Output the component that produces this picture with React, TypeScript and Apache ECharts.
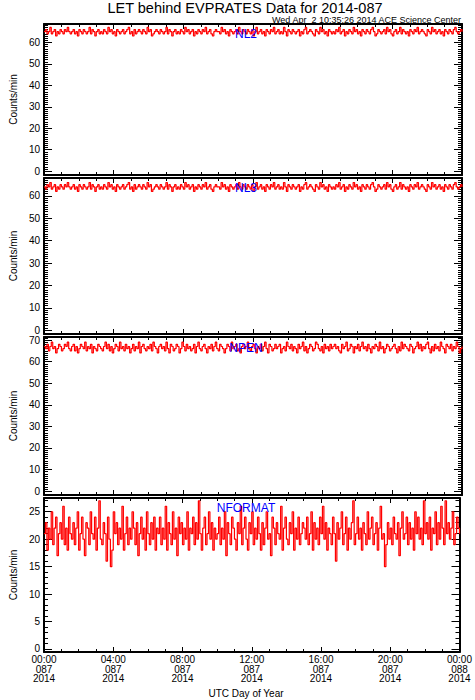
import React, { useEffect, useRef } from 'react';
import * as echarts from 'echarts';

const TITLE = 'LET behind EVPRATES Data for 2014-087';
const STAMP = 'Wed Apr  2 10:35:26 2014 ACE Science Center';
const X_NAME = 'UTC Day of Year';
const Y_NAME = 'Counts/min';
const panelNames = ['NL2', 'NL3', 'NPEN', 'NFORMAT'];

const xTickValues = [0, 240, 480, 720, 960, 1200, 1440];
const xTickLabels = [
  '00:00\n087\n2014',
  '04:00\n087\n2014',
  '08:00\n087\n2014',
  '12:00\n087\n2014',
  '16:00\n087\n2014',
  '20:00\n087\n2014',
  '00:00\n088\n2014',
];

// sample times in minutes of day (5-minute samples)
const minutes = Array.from({ length: 289 }, (_, i) => i * 5);

const nl2 = [
  65,66,64,65,67,64,65,66,63,65,64,66,65,64,66,65,67,65,64,65,
  66,64,65,63,66,65,64,66,65,64,65,67,64,66,65,63,65,66,64,65,
  64,66,65,64,67,65,66,64,65,63,66,65,64,65,66,64,65,66,67,64,
  65,63,66,64,65,66,65,64,66,65,64,67,65,66,63,64,65,66,65,64,
  66,65,64,65,67,64,66,65,63,65,66,64,65,64,66,65,64,67,65,66,
  64,65,66,63,65,64,66,65,64,66,65,67,64,65,66,64,63,65,66,65,
  65,64,67,65,66,64,65,63,66,65,64,65,66,64,67,65,64,66,65,64,
  66,65,64,66,63,65,67,64,65,66,64,65,63,66,65,64,66,65,67,64,
  65,66,64,65,64,67,65,63,66,65,64,66,65,64,65,66,63,65,64,66,
  67,64,65,66,65,64,63,66,65,64,67,65,66,64,65,63,66,65,64,65,
  64,66,65,67,64,65,66,63,65,64,66,65,64,67,65,66,64,65,63,66,
  65,64,66,65,64,66,67,65,63,64,66,65,64,65,66,64,67,65,66,64,
  63,65,66,64,65,67,64,66,65,64,65,63,66,65,64,66,65,67,64,65,
  66,65,64,63,66,65,64,67,65,66,64,65,66,64,65,63,66,65,64,66,
  65,64,66,67,65,64,65,66,65,
];
const nl3 = [
  64,63,65,64,66,63,64,65,62,64,63,65,64,63,65,64,66,64,63,64,
  65,63,64,62,65,64,63,65,64,63,64,66,63,65,64,62,64,65,63,64,
  63,65,64,63,66,64,65,63,64,62,65,64,63,64,65,63,64,65,66,63,
  64,62,65,63,64,65,64,63,65,64,63,66,64,65,62,63,64,65,64,63,
  65,64,63,64,66,63,65,64,62,64,65,63,64,63,65,64,63,66,64,65,
  63,64,65,62,64,63,65,64,63,65,64,66,63,64,65,63,62,64,65,64,
  64,63,66,64,65,63,64,62,65,64,63,64,65,63,66,64,63,65,64,63,
  65,64,63,65,62,64,66,63,64,65,63,64,62,65,64,63,65,64,66,63,
  64,65,63,64,63,66,64,62,65,64,63,65,64,63,64,65,62,64,63,65,
  66,63,64,65,64,63,62,65,64,63,66,64,65,63,64,62,65,64,63,64,
  63,65,64,66,63,64,65,62,64,63,65,64,63,66,64,65,63,64,62,65,
  64,63,65,64,63,65,66,64,62,63,65,64,63,64,65,63,66,64,65,63,
  62,64,65,63,64,66,63,65,64,63,64,62,65,64,63,65,64,66,63,64,
  65,64,63,62,65,64,63,66,64,65,63,64,65,63,64,62,65,64,63,65,
  64,63,65,66,64,63,64,65,64,
];
const npen = [
  67,66,68,65,67,69,66,67,64,66,68,67,65,66,68,67,69,66,65,67,
  68,65,67,64,66,68,67,66,69,65,67,66,68,64,67,66,65,68,67,66,
  65,67,69,66,68,65,67,64,66,68,67,65,69,66,67,65,68,66,67,64,
  66,68,65,67,66,69,64,67,68,66,65,67,66,68,65,69,67,66,64,67,
  68,66,67,65,69,66,64,68,67,65,66,68,67,64,66,69,67,65,68,66,
  67,65,66,68,64,67,69,66,65,67,68,66,64,67,66,68,65,67,69,66,
  65,68,67,66,64,66,68,67,65,69,66,67,68,65,66,64,67,68,66,67,
  69,66,65,67,68,66,64,67,66,68,65,67,69,66,64,68,67,65,66,68,
  66,67,68,64,66,67,65,69,67,66,68,65,67,66,64,68,66,67,69,65,
  67,64,66,68,67,65,66,69,68,66,65,67,64,68,66,67,65,68,66,67,
  68,66,67,65,64,68,66,67,69,65,66,68,67,64,67,66,68,65,67,69,
  66,67,65,68,66,64,67,66,68,67,65,69,66,67,64,66,68,67,65,66,
  67,68,66,64,67,65,69,66,68,67,66,65,68,67,64,66,67,69,66,68,
  65,67,66,68,69,66,64,67,65,68,66,67,65,69,67,66,64,68,67,66,
  68,65,67,66,69,67,64,66,67,
];
const nformat = [
  21,23,18,22,20,25,19,22,24,17,21,23,20,26,19,22,18,24,21,20,
  23,19,22,25,18,21,24,20,17,23,22,19,25,21,20,24,18,22,27,20,
  19,23,21,16,24,20,15,18,25,21,23,19,22,20,26,18,21,24,19,22,
  20,25,22,19,23,17,21,24,20,22,18,25,21,19,23,20,24,18,22,21,
  24,19,22,20,26,18,23,21,19,25,20,22,17,24,21,23,19,22,20,25,
  18,22,21,24,19,23,20,27,21,18,22,24,19,21,25,20,23,18,22,20,
  21,24,19,22,20,25,17,23,21,19,24,22,20,18,23,21,26,19,22,24,
  20,18,23,21,25,19,22,20,24,21,18,23,19,22,25,20,21,17,24,22,
  19,23,21,20,26,18,22,24,20,19,23,21,25,18,22,20,24,19,21,23,
  22,20,24,19,21,25,18,23,20,22,19,24,21,26,20,23,18,22,21,19,
  24,21,16,23,20,22,25,19,21,24,18,22,20,23,27,19,21,24,20,22,
  18,23,21,19,25,20,22,24,19,21,23,18,22,26,20,21,15,19,23,20,
  22,19,24,21,20,23,17,22,25,20,21,24,19,23,20,22,18,25,21,24,
  20,22,19,27,21,23,20,24,18,22,21,25,19,23,20,26,22,19,27,21,
  23,20,22,25,19,21,24,22,21,
];
const seriesValues = [nl2, nl3, npen, nformat];

const yMins = [-1.8, -1.7, -1.8, -0.55];
const yMaxs = [68.6, 68.0, 71.4, 27.5];
const yMajorTicks = [
  [0, 10, 20, 30, 40, 50, 60],
  [0, 10, 20, 30, 40, 50, 60],
  [0, 10, 20, 30, 40, 50, 60, 70],
  [0, 5, 10, 15, 20, 25],
];

const FONT = 'Liberation Sans, Arial, Helvetica, sans-serif';

export default function App() {
  const ref = useRef<HTMLDivElement>(null);

  useEffect(() => {
    document.body.style.margin = '0';
    if (!ref.current) return;
    const chart = echarts.init(ref.current, null, { renderer: 'svg' });

    const gridTops = [24, 178, 337, 498];
    const gridHeights = [151, 156, 158, 154];
    const labelY = [34, 188, 348, 508];

    const grids: any[] = [];
    const xAxes: any[] = [];
    const yAxes: any[] = [];
    const series: any[] = [];

    for (let i = 0; i < 4; i++) {
      grids.push({ left: 31, width: 431, top: gridTops[i], height: gridHeights[i], containLabel: false });
      const xBase = {
        type: 'value',
        gridIndex: i,
        min: 0,
        max: 1440,
        interval: 240,
        axisLine: { show: true, onZero: false, lineStyle: { color: '#000', width: 2 } },
        axisTick: { show: true, inside: true, length: 5, lineStyle: { color: '#000', width: 1 } },
        minorTick: { show: true, splitNumber: 4, length: 3, lineStyle: { color: '#000', width: 1 } },
        splitLine: { show: false },
        minorSplitLine: { show: false },
      };
      xAxes.push({
        ...xBase,
        position: 'bottom',
        axisLabel: {
          show: i === 3,
          showMinLabel: true,
          showMaxLabel: true,
          margin: 3,
          color: '#000',
          fontSize: 10,
          lineHeight: 9.5,
          fontFamily: FONT,
          formatter: (v: number) => {
            const k = xTickValues.indexOf(v);
            return k >= 0 ? xTickLabels[k] : '';
          },
        },
      });
      xAxes.push({ ...xBase, position: 'top', axisLabel: { show: false } });

      const minor: number[] = [];
      for (let v = 0; v <= Math.floor(yMaxs[i]); v++) minor.push(v);
      const yBase = {
        type: 'value',
        gridIndex: i,
        min: yMins[i],
        max: yMaxs[i],
        splitLine: { show: false },
      };
      const lineOn = { show: true, onZero: false, lineStyle: { color: '#000', width: 2 } };
      yAxes.push({
        ...yBase,
        position: 'left',
        axisLine: lineOn,
        axisTick: { show: true, inside: true, length: 8, customValues: yMajorTicks[i], lineStyle: { color: '#000', width: 1 } },
        axisLabel: {
          show: true,
          customValues: yMajorTicks[i],
          margin: 4,
          color: '#000',
          fontSize: 10,
          lineHeight: 9,
          fontFamily: FONT,
        },
        name: Y_NAME,
        nameLocation: 'middle',
        nameGap: 23,
        nameRotate: 90,
        nameTextStyle: { color: '#000', fontSize: 10, fontFamily: FONT },
      });
      yAxes.push({
        ...yBase,
        position: 'left',
        axisLine: { show: false, onZero: false },
        axisTick: { show: true, inside: true, length: 4, customValues: minor, lineStyle: { color: '#000', width: 1 } },
        axisLabel: { show: false },
      });
      yAxes.push({
        ...yBase,
        position: 'right',
        axisLine: lineOn,
        axisTick: { show: true, inside: true, length: 8, customValues: yMajorTicks[i], lineStyle: { color: '#000', width: 1 } },
        axisLabel: { show: false },
      });
      yAxes.push({
        ...yBase,
        position: 'right',
        axisLine: { show: false, onZero: false },
        axisTick: { show: true, inside: true, length: 4, customValues: minor, lineStyle: { color: '#000', width: 1 } },
        axisLabel: { show: false },
      });

      series.push({
        type: 'line',
        name: panelNames[i],
        xAxisIndex: i * 2,
        yAxisIndex: i * 4,
        data: minutes.map((m, k) => [m, seriesValues[i][k]]),
        step: 'end',
        showSymbol: false,
        symbol: 'none',
        clip: true,
        silent: true,
        lineStyle: { color: '#ff0000', width: 1.2 },
        itemStyle: { color: '#ff0000' },
      });
    }

    const graphics: any[] = [
      {
        type: 'text',
        x: 245,
        y: 8,
        style: { text: TITLE, fill: '#000', fontSize: 14.5, fontFamily: FONT, textAlign: 'center', textVerticalAlign: 'middle' },
      },
      {
        type: 'text',
        x: 461,
        y: 20,
        style: { text: STAMP, fill: '#000', fontSize: 9, fontFamily: FONT, textAlign: 'right', textVerticalAlign: 'middle' },
      },
      {
        type: 'text',
        x: 246,
        y: 693,
        style: { text: X_NAME, fill: '#000', fontSize: 10, fontFamily: FONT, textAlign: 'center', textVerticalAlign: 'middle' },
      },
    ];
    for (let i = 0; i < 4; i++) {
      graphics.push({
        type: 'text',
        x: 246,
        y: labelY[i],
        z: 100,
        style: { text: panelNames[i], fill: '#0000ff', fontSize: 12, fontFamily: FONT, textAlign: 'center', textVerticalAlign: 'middle' },
      });
    }

    chart.setOption({
      animation: false,
      backgroundColor: '#fff',
      grid: grids,
      xAxis: xAxes,
      yAxis: yAxes,
      series,
      graphic: graphics,
    });

    return () => chart.dispose();
  }, []);

  return <div ref={ref} style={{ width: 475, height: 700 }} />;
}
